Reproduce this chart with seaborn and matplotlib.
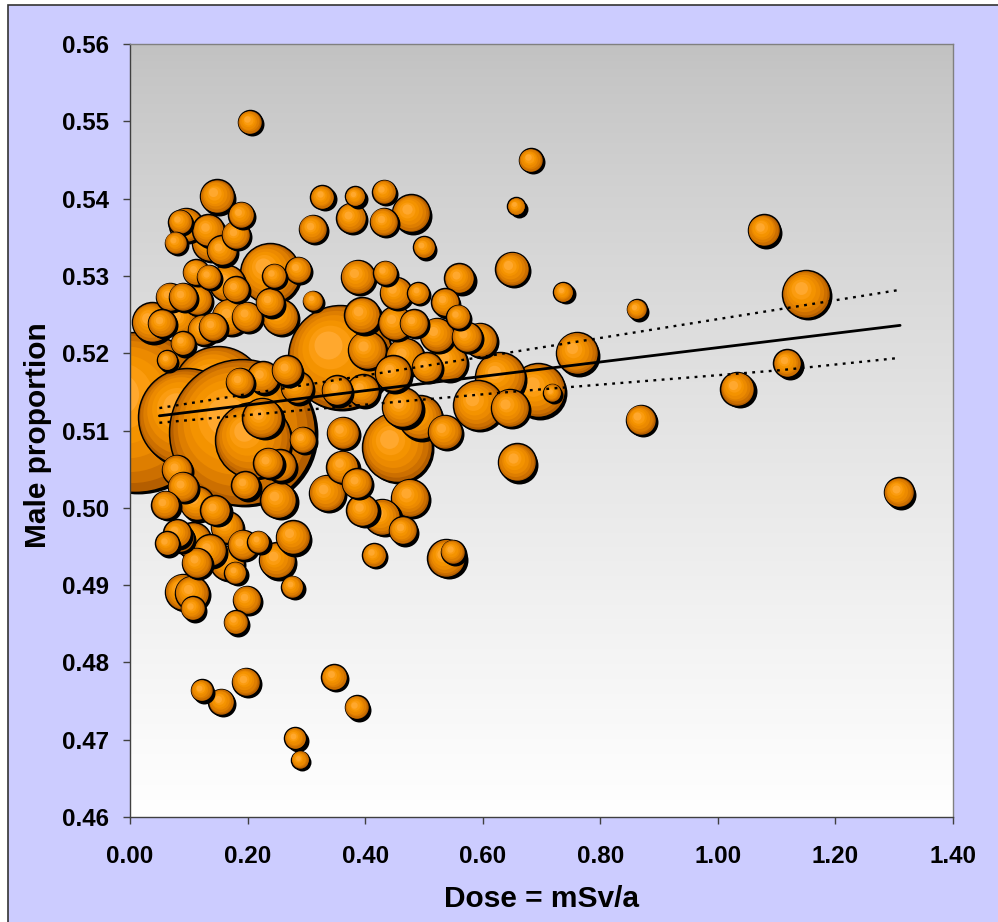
import numpy as np
import pandas as pd
import matplotlib
matplotlib.use("Agg")
import matplotlib.pyplot as plt
import matplotlib.transforms as mtransforms
from matplotlib.patches import Rectangle
import seaborn as sns

# ---------------- data ----------------
# the first five bubbles are the large background ones (drawn first, in series order)
dose = [0.009, 0.150, 0.097, 0.191, 0.357,
        0.204, 1.308, 1.150, 1.078, 1.118, 1.033, 0.869, 0.862, 0.737, 0.760,
        0.694, 0.718, 0.682, 0.657, 0.650, 0.658, 0.327, 0.383, 0.432, 0.376,
        0.432, 0.478, 0.500, 0.311, 0.388, 0.434, 0.452, 0.490, 0.560, 0.536,
        0.558, 0.395, 0.451, 0.483, 0.522, 0.573, 0.595, 0.403, 0.468, 0.541,
        0.505, 0.629, 0.592, 0.646, 0.493, 0.536, 0.454, 0.362, 0.352, 0.396,
        0.447, 0.463, 0.361, 0.386, 0.335, 0.395, 0.429, 0.476, 0.464, 0.415,
        0.538, 0.549, 0.294, 0.255, 0.235, 0.196, 0.252, 0.165, 0.107, 0.085,
        0.136, 0.192, 0.218, 0.277, 0.250, 0.165, 0.114, 0.179, 0.090, 0.105,
        0.107, 0.276, 0.199, 0.180, 0.063, 0.080, 0.122, 0.155, 0.197, 0.347,
        0.386, 0.281, 0.289, 0.148, 0.189, 0.095, 0.078, 0.133, 0.180, 0.136,
        0.156, 0.085, 0.112, 0.134, 0.165, 0.180, 0.068, 0.090, 0.114, 0.054,
        0.085, 0.141, 0.170, 0.199, 0.255, 0.238, 0.238, 0.245, 0.286, 0.311,
        0.037, 0.225, 0.209, 0.080, 0.090,
        0.114, 0.145, 0.060, 0.267, 0.226, 0.187, 0.284, 0.090, 0.063, 0.124]

male_prop = [0.5124, 0.5150, 0.5117, 0.5098, 0.5195,
             0.5499, 0.5020, 0.5277, 0.5359, 0.5187, 0.5154, 0.5114, 0.5257, 0.5279, 0.5200,
             0.5152, 0.5149, 0.5450, 0.5390, 0.5309, 0.5059, 0.5402, 0.5403, 0.5409, 0.5375,
             0.5370, 0.5381, 0.5337, 0.5361, 0.5299, 0.5304, 0.5278, 0.5278, 0.5297, 0.5266,
             0.5247, 0.5249, 0.5239, 0.5239, 0.5224, 0.5221, 0.5217, 0.5204, 0.5195, 0.5189,
             0.5182, 0.5169, 0.5133, 0.5129, 0.5117, 0.5098, 0.5079, 0.5097, 0.5152, 0.5152,
             0.5174, 0.5130, 0.5053, 0.5032, 0.5019, 0.4997, 0.4988, 0.5013, 0.4971, 0.4939,
             0.4935, 0.4943, 0.5088, 0.5055, 0.5058, 0.5029, 0.5010, 0.4975, 0.4958, 0.4961,
             0.4945, 0.4952, 0.4956, 0.4962, 0.4932, 0.4929, 0.4929, 0.4916, 0.4891, 0.4890,
             0.4870, 0.4898, 0.4881, 0.4852, 0.4954, 0.4967, 0.4764, 0.4749, 0.4775, 0.4781,
             0.4742, 0.4702, 0.4674, 0.5403, 0.5379, 0.5366, 0.5343, 0.5359, 0.5353, 0.5343,
             0.5333, 0.5370, 0.5305, 0.5299, 0.5291, 0.5283, 0.5273, 0.5273, 0.5269, 0.5239,
             0.5243, 0.5234, 0.5247, 0.5247, 0.5247, 0.5266, 0.5304, 0.5300, 0.5308, 0.5268,
             0.5240, 0.5116, 0.5088, 0.5049, 0.5027,
             0.5006, 0.4997, 0.5004, 0.5178, 0.5169, 0.5163, 0.5156, 0.5213, 0.5191, 0.5230]

# bubble value (births, thousands) - bubble area is proportional to it
births_k = [640.0, 211.6, 240.1, 532.9, 270.4,
            14.4, 22.5, 57.6, 25.6, 19.6, 28.9, 22.5, 10.0, 10.0, 44.1,
            72.9, 8.1, 14.4, 8.1, 28.9, 36.1, 14.4, 10.0, 14.4, 22.5,
            19.6, 36.1, 12.1, 19.6, 28.9, 14.4, 25.6, 12.1, 22.5, 19.6,
            14.4, 32.4, 28.9, 19.6, 28.9, 22.5, 28.9, 36.1, 36.1, 36.1,
            22.5, 62.5, 62.5, 36.1, 48.4, 28.9, 122.5, 25.6, 22.5, 25.6,
            32.4, 40.0, 25.6, 22.5, 32.4, 25.6, 32.4, 36.1, 19.6, 14.4,
            36.1, 14.4, 16.9, 25.6, 22.5, 19.6, 32.4, 25.6, 32.4, 19.6,
            25.6, 22.5, 12.1, 28.9, 32.4, 28.9, 22.5, 12.1, 32.4, 28.9,
            14.4, 12.1, 19.6, 14.4, 14.4, 19.6, 12.1, 16.9, 19.6, 16.9,
            14.4, 12.1, 8.1, 28.9, 16.9, 28.9, 12.1, 25.6, 19.6, 32.4,
            22.5, 14.4, 16.9, 14.4, 32.4, 16.9, 19.6, 19.6, 22.5, 19.6,
            25.6, 19.6, 32.4, 22.5, 32.4, 19.6, 90.0, 14.4, 16.9, 10.0,
            40.0, 40.0, 144.4, 22.5, 22.5,
            28.9, 22.5, 19.6, 22.5, 25.6, 19.6, 25.6, 14.4, 10.0, 22.5]
n_background = 5

# trend line and its dotted confidence lines
fit_dose = [0.05, 1.31]
fit_male = [0.5119, 0.5236]
ci_dose = [0.05, 0.663, 1.106, 1.31]
ci_upper = [0.5129, 0.5203, 0.5257, 0.5282]
ci_lower = [0.5110, 0.5151, 0.5178, 0.5194]

x_ticks = [0.0, 0.2, 0.4, 0.6, 0.8, 1.0, 1.2, 1.4]
x_tick_labels = ["0.00", "0.20", "0.40", "0.60", "0.80", "1.00", "1.20", "1.40"]
y_ticks = [0.46, 0.47, 0.48, 0.49, 0.50, 0.51, 0.52, 0.53, 0.54, 0.55, 0.56]
y_tick_labels = ["0.46", "0.47", "0.48", "0.49", "0.50", "0.51", "0.52", "0.53",
                 "0.54", "0.55", "0.56"]

x_title = "Dose = mSv/a"
y_title = "Male proportion"

# ---------------- style ----------------
sns.set_theme(style="ticks")
plt.rcParams['font.family'] = ['Liberation Sans', 'DejaVu Sans']
plt.rcParams['font.weight'] = 'bold'

W, H = 998, 922
fig = plt.figure(figsize=(W / 100, H / 100), dpi=100, facecolor='white')
fig.add_artist(Rectangle((8 / W, -0.02), 1.0, 1 - 5 / H + 0.02,
                         transform=fig.transFigure, facecolor='#CCCCFF',
                         edgecolor='#333333', lw=1.2, zorder=-10))

ax = fig.add_axes([130 / W, 1 - 817 / H, 823 / W, 773 / H])
ax.set_facecolor('none')

# vertical grey-to-white gradient of the plot area
t = np.linspace(0, 1, 400)[:, None]
v = (193 + 62 * t ** 0.8) / 255.0
grad = np.dstack([v, v, v])
ax.imshow(grad, extent=[0, 1, 0, 1], transform=ax.transAxes, aspect='auto',
          zorder=0, interpolation='bilinear')

# ---------------- bubbles ----------------
df = pd.DataFrame({"dose": dose, "male": male_prop, "births": births_k})
rest = np.arange(n_background, len(df))
rest = rest[np.argsort(-df["births"].to_numpy()[rest], kind="stable")]
order = list(range(n_background)) + list(rest)

PT2_PER_K = 20.7  # marker area (points^2) per thousand births
shade_layers = [  # (relative radius, shift toward upper-left, colour)
    (0.92, 0.05, '#CC6F00'),
    (0.82, 0.11, '#DE7E00'),
    (0.70, 0.17, '#EC8A00'),
    (0.56, 0.23, '#F49300'),
    (0.42, 0.28, '#FB9C10'),
    (0.27, 0.32, '#FFA82E'),
]

for i in order:
    xi, yi, bi = df.iloc[i]["dose"], df.iloc[i]["male"], df.iloc[i]["births"]
    s = bi * PT2_PER_K
    r_pt = np.sqrt(s) / 2
    sh = mtransforms.offset_copy(ax.transData, fig=fig, x=1.7, y=-1.7, units='points')
    ax.scatter([xi], [yi], s=s, color='black', linewidths=0, transform=sh, zorder=2)
    sns.scatterplot(x=[xi], y=[yi], s=s, color='#B45E00', edgecolor='black',
                    linewidth=1.1, ax=ax, zorder=2, legend=False)
    for rho, off, col in shade_layers:
        d = off * r_pt / np.sqrt(2)
        tr = mtransforms.offset_copy(ax.transData, fig=fig, x=-d, y=d, units='points')
        ax.scatter([xi], [yi], s=s * rho ** 2, color=col, linewidths=0,
                   transform=tr, zorder=2)

# ---------------- trend lines ----------------
sns.lineplot(x=fit_dose, y=fit_male, color='black', linewidth=2.0, ax=ax,
             zorder=4, sort=False, errorbar=None)
sns.lineplot(x=ci_dose, y=ci_upper, color='black', linewidth=1.7, ax=ax,
             zorder=4, sort=False, errorbar=None, linestyle=(0, (1.2, 2.3)))
sns.lineplot(x=ci_dose, y=ci_lower, color='black', linewidth=1.7, ax=ax,
             zorder=4, sort=False, errorbar=None, linestyle=(0, (1.2, 2.3)))

# ---------------- axes ----------------
ax.set_xlim(0, 1.4)
ax.set_ylim(0.46, 0.56)
ax.set_xticks(x_ticks, labels=x_tick_labels)
ax.set_yticks(y_ticks, labels=y_tick_labels)
ax.tick_params(axis='both', direction='out', length=5, width=1.0, color='#404040',
               labelsize=17.4, labelcolor='black', left=True, bottom=True)
ax.tick_params(axis='y', pad=10)
ax.tick_params(axis='x', pad=15.5)
for lab in ax.get_xticklabels() + ax.get_yticklabels():
    lab.set_fontweight('bold')

for side in ['left', 'bottom']:
    ax.spines[side].set_color('#404040')
    ax.spines[side].set_linewidth(1.0)
for side in ['top', 'right']:
    ax.spines[side].set_visible(True)
    ax.spines[side].set_color('#808080')
    ax.spines[side].set_linewidth(1.0)
for sp in ax.spines.values():
    sp.set_zorder(5)

ax.set_xlabel(x_title, fontsize=21.5, fontweight='bold', color='black')
ax.set_ylabel(y_title, fontsize=21.5, fontweight='bold', color='black')
ax.xaxis.set_label_coords(0.5, -0.106)
ax.xaxis.label.set_va('center')
ax.yaxis.set_label_coords(-0.112, 0.494)
ax.yaxis.label.set_va('center')

fig.savefig("out.png", dpi=100, facecolor=fig.get_facecolor())
